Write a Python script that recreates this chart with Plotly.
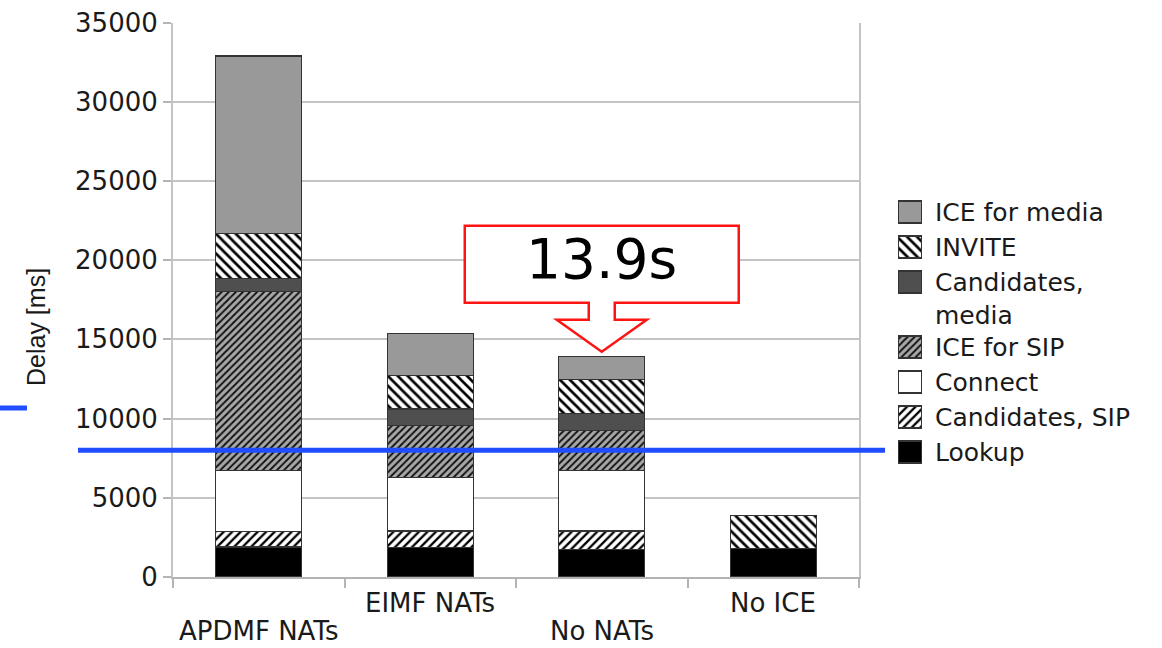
import plotly.graph_objects as go

# ---- data -------------------------------------------------------------
categories = ["APDMF NATs", "EIMF NATs", "No NATs", "No ICE"]
series_names = ["Lookup", "Candidates, SIP", "Connect", "ICE for SIP",
                "Candidates, media", "INVITE", "ICE for media"]

lookup = [1900, 1850, 1750, 1800]
candidates_sip = [950, 1050, 1150, None]
connect = [3850, 3400, 3800, None]
ice_for_sip = [11300, 3250, 2550, None]
candidates_media = [840, 1050, 1050, None]
invite = [2840, 2100, 2150, 2100]
ice_for_media = [11200, 2650, 1450, None]

y_ticks = [0, 5000, 10000, 15000, 20000, 25000, 30000, 35000]
highlight_category = "No NATs"
reference_level = 8000

series_values = [lookup, candidates_sip, connect, ice_for_sip,
                 candidates_media, invite, ice_for_media]

# ---- styling ----------------------------------------------------------
W, H = 1162, 648
FONT = "DejaVu Sans"
OUTLINE = "#333333"

styles = {
    "Lookup": dict(color="#000000"),
    "Candidates, SIP": dict(color="#ffffff", pattern=dict(shape="/", fgcolor="#000000", bgcolor="#ffffff",
                                                         size=6, solidity=0.38, fillmode="replace")),
    "Connect": dict(color="#ffffff"),
    "ICE for SIP": dict(color="#a8a8a8", pattern=dict(shape="/", fgcolor="#111111", bgcolor="#a8a8a8",
                                                     size=5, solidity=0.38, fillmode="replace")),
    "Candidates, media": dict(color="#4f4f4f"),
    "INVITE": dict(color="#ffffff", pattern=dict(shape="\\", fgcolor="#000000", bgcolor="#ffffff",
                                                 size=7, solidity=0.38, fillmode="replace")),
    "ICE for media": dict(color="#999999"),
}

# plot area in pixels
PX_LEFT, PX_RIGHT, PX_TOP, PX_BOTTOM = 173, 859, 22.5, 577
x_dom = [PX_LEFT / W, PX_RIGHT / W]
y_dom = [(H - PX_BOTTOM) / H, (H - PX_TOP) / H]
ms_per_px = (y_ticks[-1] - y_ticks[0]) / (PX_BOTTOM - PX_TOP)
cat_per_px = len(categories) / (PX_RIGHT - PX_LEFT)

fig = go.Figure()

# ---- stacked bars -----------------------------------------------------
for name, vals in zip(series_names, series_values):
    st = styles[name]
    marker = dict(color=st["color"], line=dict(color=OUTLINE, width=1.2))
    if "pattern" in st:
        marker["pattern"] = st["pattern"]
    fig.add_trace(go.Bar(x=categories, y=vals, name=name, width=0.5,
                         marker=marker, showlegend=False, hoverinfo="x+y+name"))

# ---- legend keys (own small axis, pixel rows) -------------------------
legend_text_x = 933
row_px = 212
annotations = []
for name in reversed(series_names):
    label = name.replace(", media", ",<br>media")
    n_lines = label.count("<br>") + 1
    st = styles[name]
    marker = dict(color=st["color"], line=dict(color=OUTLINE, width=1.2))
    if "pattern" in st:
        marker["pattern"] = st["pattern"]
    fig.add_trace(go.Bar(x=[1], y=[row_px], base=[0], width=[22], orientation="h",
                         marker=marker, xaxis="x2", yaxis="y2",
                         showlegend=False, hoverinfo="skip"))
    annotations.append(dict(
        text=label, xref="paper", yref="paper", x=legend_text_x / W,
        y=1 - (row_px - 16) / H, xanchor="left", yanchor="top", align="left",
        showarrow=False, font=dict(family=FONT, size=25, color="#1a1a1a")))
    row_px += 35 + 30 * (n_lines - 1)

# ---- staggered category labels ---------------------------------------
for i, cat in enumerate(categories):
    y_px = 631 if i % 2 == 0 else 603
    annotations.append(dict(
        text=cat, xref="x", yref="paper", x=i, y=1 - y_px / H,
        xanchor="center", yanchor="middle", showarrow=False,
        font=dict(family=FONT, size=26, color="#1a1a1a")))

# ---- axis title -------------------------------------------------------
annotations.append(dict(
    text="Delay [ms]", xref="paper", yref="paper", x=36 / W, y=1 - 327 / H,
    xanchor="center", yanchor="middle", textangle=-90, showarrow=False,
    font=dict(family="Liberation Sans", size=25, color="#1a1a1a")))

# ---- callout over the highlighted bar ---------------------------------
hi = categories.index(highlight_category)
hi_total = sum(v[hi] for v in series_values if v[hi] is not None)
tip_x = hi
tip_y = hi_total + 5 * ms_per_px

outline_px = [(-137, 126), (137, 126), (137, 49), (13, 49), (13, 32), (45, 32),
              (0, 0), (-45, 32), (-13, 32), (-13, 49), (-137, 49)]
path = ""
for k, (dx, dy) in enumerate(outline_px):
    px = tip_x + dx * cat_per_px
    py = tip_y + dy * ms_per_px
    path += ("M" if k == 0 else "L") + f"{px:.4f},{py:.2f} "
path += "Z"

shapes = [
    dict(type="path", path=path, xref="x", yref="y", fillcolor="#ffffff",
         line=dict(color="#ff1414", width=2.5), layer="above"),
    dict(type="line", xref="paper", yref="y", x0=78 / W, x1=885 / W,
         y0=reference_level, y1=reference_level,
         line=dict(color="#1f4dff", width=5), layer="above"),
    dict(type="line", xref="paper", yref="paper", x0=0, x1=27 / W,
         y0=1 - 408 / H, y1=1 - 408 / H,
         line=dict(color="#1f4dff", width=5), layer="above"),
]

annotations.append(dict(
    text=f"{hi_total / 1000:.1f}s", xref="x", yref="y",
    x=tip_x, y=tip_y + 93 * ms_per_px, xanchor="center", yanchor="middle",
    showarrow=False, font=dict(family=FONT, size=55, color="#000000")))

# ---- layout -----------------------------------------------------------
fig.update_layout(
    width=W, height=H, barmode="stack", bargap=0.5,
    margin=dict(l=0, r=0, t=0, b=0, pad=0),
    paper_bgcolor="#ffffff", plot_bgcolor="#ffffff",
    showlegend=False, shapes=shapes, annotations=annotations,
    xaxis=dict(domain=x_dom, type="category", range=[-0.5, len(categories) - 0.5],
               showticklabels=False, ticks="outside", tickson="boundaries",
               ticklen=9, tickcolor="#b4b4b4", tickwidth=1.5,
               showline=True, linecolor="#b4b4b4", linewidth=2,
               showgrid=False, automargin=False, fixedrange=True),
    yaxis=dict(domain=y_dom, range=[y_ticks[0], y_ticks[-1]], tickvals=y_ticks,
               ticktext=[str(t) for t in y_ticks],
               ticks="outside", ticklen=8, tickcolor="#b4b4b4", tickwidth=1.5,
               tickfont=dict(family=FONT, size=26, color="#1a1a1a"),
               showline=True, mirror=True, linecolor="#c4c4c4", linewidth=2,
               showgrid=True, gridcolor="#c4c4c4", gridwidth=1.5,
               zeroline=False, automargin=False, fixedrange=True),
    xaxis2=dict(domain=[898 / W, 922 / W], range=[0, 1], anchor="y2",
                visible=False, fixedrange=True),
    yaxis2=dict(domain=[0, 1], range=[H, 0], anchor="x2",
                visible=False, fixedrange=True),
)

fig.write_html("out.html")
